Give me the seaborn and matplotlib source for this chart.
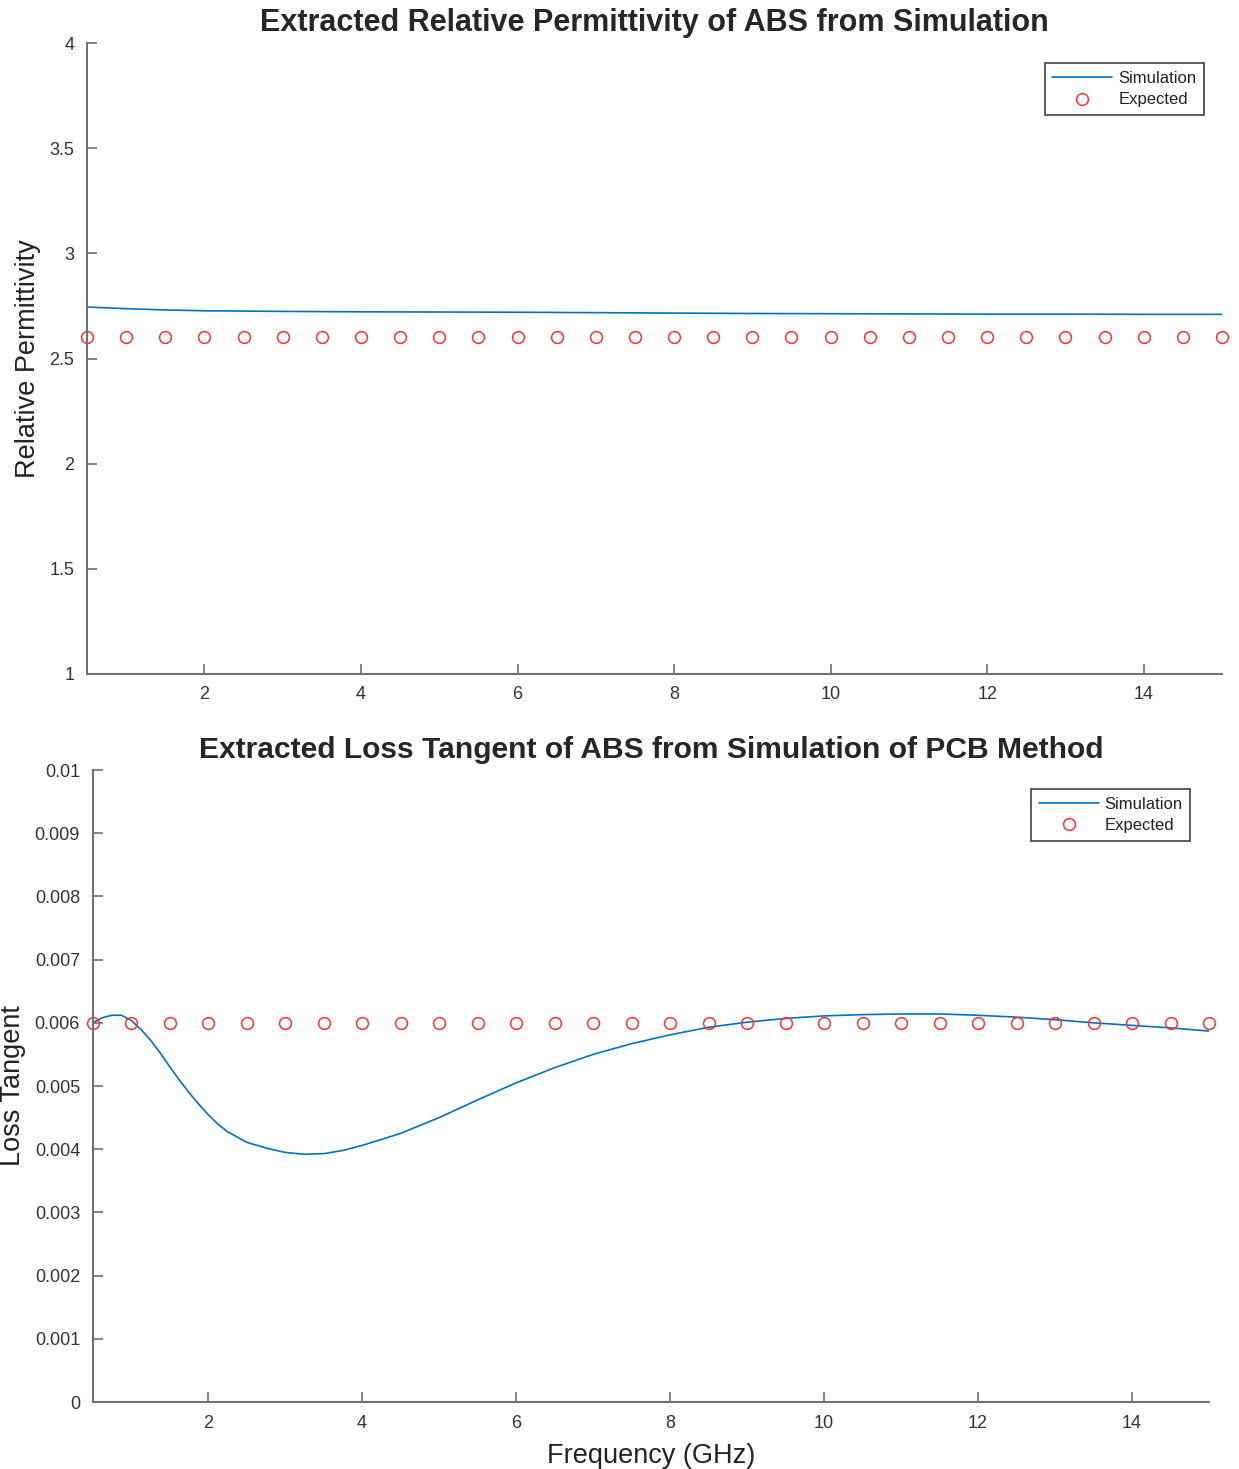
import numpy as np
import pandas as pd
import matplotlib
matplotlib.use('Agg')
import matplotlib.pyplot as plt
from matplotlib.ticker import FuncFormatter
import seaborn as sns

# Data
perm_freq = [0.5, 1.0, 1.5, 2.0, 3.0, 4.0, 5.0, 6.0, 7.0, 8.0, 9.0, 10.0, 11.0, 12.0, 13.0, 14.0, 15.0]
perm_sim = [2.745, 2.737, 2.731, 2.727, 2.724, 2.722, 2.721, 2.720, 2.718, 2.716, 2.714, 2.713, 2.712, 2.711, 2.711, 2.710, 2.710]

loss_freq = [0.5, 0.625, 0.75, 0.875, 1.0, 1.125, 1.25, 1.375, 1.5, 1.625, 1.75, 1.875, 2.0,
             2.125, 2.25, 2.5, 2.75, 3.0, 3.25, 3.5, 3.75, 4.0,
             4.5, 5.0, 5.5, 6.0, 6.5, 7.0, 7.5, 8.0, 8.5, 9.0, 9.5, 10.0, 10.5, 11.0, 11.5,
             12.0, 12.5, 13.0, 13.5, 14.0, 14.5, 15.0]
loss_sim = [0.00600, 0.00608, 0.00612, 0.00612, 0.00604, 0.00590, 0.00573, 0.00553, 0.00531, 0.00510,
            0.00490, 0.00472, 0.00455, 0.00440, 0.00428, 0.00411, 0.00402,
            0.00395, 0.00392, 0.00393, 0.00398, 0.00406, 0.00425, 0.00450, 0.00478, 0.00505, 0.00529,
            0.00550, 0.00567, 0.00581, 0.00593, 0.00601, 0.00607, 0.00611, 0.00613, 0.00614, 0.00614,
            0.00612, 0.00609, 0.00605, 0.00600, 0.00596, 0.00592, 0.00587]

expected_freq = [0.5, 1.0, 1.5, 2.0, 2.5, 3.0, 3.5, 4.0, 4.5, 5.0, 5.5, 6.0, 6.5, 7.0, 7.5,
                 8.0, 8.5, 9.0, 9.5, 10.0, 10.5, 11.0, 11.5, 12.0, 12.5, 13.0, 13.5, 14.0, 14.5, 15.0]
expected_perm = [2.6] * len(expected_freq)
expected_loss = [0.006] * len(expected_freq)

sns.set_style('white')
plt.rcParams['font.family'] = ['Liberation Sans', 'DejaVu Sans']

blue = '#0072BD'
spine_col = '#6e6e6e'
text_col = '#333333'

fig = plt.figure(figsize=(12.39, 14.69), dpi=100)
ax1 = fig.add_axes([0.0702, 0.5412, 0.9161, 0.4295])
ax2 = fig.add_axes([0.0747, 0.0456, 0.9011, 0.4302])


def style_axes(ax, yticks, ylabel, title, title_size, leg_anchor):
    ax.set_xlim(0.5, 15)
    ax.set_xticks([2, 4, 6, 8, 10, 12, 14])
    ax.set_yticks(yticks)
    ax.set_ylim(yticks[0], yticks[-1])
    ax.yaxis.set_major_formatter(FuncFormatter(lambda v, p: '%g' % v))
    ax.tick_params(bottom=True, left=True, direction='in', length=7, width=1.2,
                   color=spine_col, labelsize=13, labelcolor=text_col, pad=9)
    for s in ['top', 'right']:
        ax.spines[s].set_visible(False)
    for s in ['left', 'bottom']:
        ax.spines[s].set_color(spine_col)
        ax.spines[s].set_linewidth(1.4)
    ax.set_ylabel(ylabel, fontsize=19.5, color='#222222', labelpad=6)
    ax.set_title(title, fontsize=title_size, fontweight='bold', pad=9)
    leg = ax.legend(loc='upper right', bbox_to_anchor=leg_anchor, borderaxespad=0,
                    fontsize=12, handlelength=3.6, handletextpad=0.35,
                    labelspacing=0.4, borderpad=0.45, fancybox=False,
                    framealpha=1, edgecolor='#404040')
    leg.get_frame().set_linewidth(1.2)
    for t in leg.get_texts():
        t.set_color('#222222')


# Top: relative permittivity
sns.lineplot(x=perm_freq, y=perm_sim, ax=ax1, color=blue, linewidth=1.2,
             estimator=None, label='Simulation')
sns.lineplot(x=expected_freq, y=expected_perm, ax=ax1, linestyle='', marker='o',
             markersize=8.5, markerfacecolor='none', markeredgecolor='#ff3030',
             markeredgewidth=1.1, estimator=None, label='Expected', clip_on=False)
style_axes(ax1, [1, 1.5, 2, 2.5, 3, 3.5, 4], 'Relative Permittivity',
           'Extracted Relative Permittivity of ABS from Simulation', 22, (0.984, 0.968))

# Bottom: loss tangent
sns.lineplot(x=loss_freq, y=loss_sim, ax=ax2, color=blue, linewidth=1.2,
             estimator=None, label='Simulation')
sns.lineplot(x=expected_freq, y=expected_loss, ax=ax2, linestyle='', marker='o',
             markersize=8.5, markerfacecolor='none', markeredgecolor='#ff3030',
             markeredgewidth=1.1, estimator=None, label='Expected', clip_on=False)
style_axes(ax2, [0, 0.001, 0.002, 0.003, 0.004, 0.005, 0.006, 0.007, 0.008, 0.009, 0.01],
           'Loss Tangent', 'Extracted Loss Tangent of ABS from Simulation of PCB Method',
           21.6, (0.983, 0.970))
ax2.set_xlabel('Frequency (GHz)', fontsize=19.5, color='#222222', labelpad=8)

fig.savefig('out.png', dpi=100, facecolor='white')
